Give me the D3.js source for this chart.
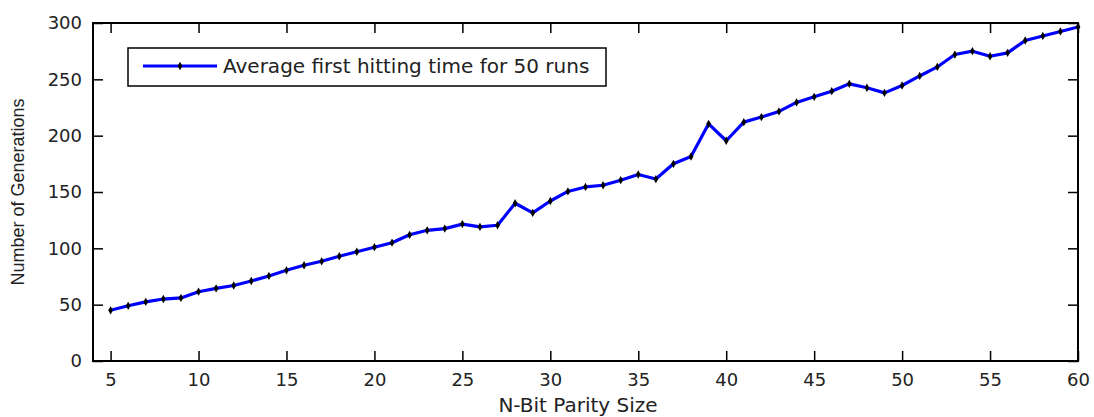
<!DOCTYPE html>
<html>
<head>
<meta charset="utf-8">
<script src="https://cdn.jsdelivr.net/npm/d3@7"></script>
<style>
  html, body { margin: 0; padding: 0; background: #fff; }
  svg { display: block; }
</style>
</head>
<body>
<script>
// ---- data ----
const bitSizes = [5,6,7,8,9,10,11,12,13,14,15,16,17,18,19,20,21,22,23,24,25,26,27,28,29,30,31,32,33,34,35,36,37,38,39,40,41,42,43,44,45,46,47,48,49,50,51,52,53,54,55,56,57,58,59,60];
const avgGenerations = [45,49,52.5,55,56,61.5,64.5,67,71,75.5,80.5,85,88.5,93,97,101,105,112,116,117.5,121.5,119,120.5,140,131.5,142,150.5,154.5,156,160.5,165.5,161.5,175,181.5,210.5,195.5,212,216.5,221.5,229.5,234.5,239.5,246,242.5,238,244.5,253,261,272,275,270.5,273.5,284.5,288.5,292.5,296.5];
const xTicks = [5,10,15,20,25,30,35,40,45,50,55,60];
const yTicks = [0,50,100,150,200,250,300];
const seriesName = "Average first hitting time for 50 runs";
const xLabel = "N-Bit Parity Size";
const yLabel = "Number of Generations";

// ---- layout ----
const W = 1094, H = 417;
const L = 93, R = 1078, T = 23, B = 361;
const tickFont = "'DejaVu Sans', sans-serif";

const svg = d3.select("body").append("svg").attr("width", W).attr("height", H);

const x = d3.scaleLinear().domain([4, 60]).range([L, R]);
const y = d3.scaleLinear().domain([0, 300]).range([B, T]);

const data = bitSizes.map((n, i) => ({n, v: avgGenerations[i]}));

svg.append("rect").attr("x", L).attr("y", T).attr("width", R - L).attr("height", B - T).attr("fill", "#fff");

const tickLen = 10;
const gx = svg.append("g").attr("transform", `translate(0,${B})`)
  .call(d3.axisBottom(x).tickValues(xTicks).tickSizeInner(-tickLen).tickSizeOuter(0).tickPadding(12));
const gy = svg.append("g").attr("transform", `translate(${L},0)`)
  .call(d3.axisLeft(y).tickValues(yTicks).tickSizeInner(-tickLen).tickSizeOuter(0).tickPadding(11));
const gxt = svg.append("g").attr("transform", `translate(0,${T})`)
  .call(d3.axisTop(x).tickValues(xTicks).tickSizeInner(-tickLen).tickSizeOuter(0).tickFormat(""));
const gyr = svg.append("g").attr("transform", `translate(${R},0)`)
  .call(d3.axisRight(y).tickValues(yTicks).tickSizeInner(-tickLen).tickSizeOuter(0).tickFormat(""));

[gx, gy, gxt, gyr].forEach(g => {
  g.select(".domain").remove();
  g.selectAll(".tick line").attr("stroke", "#000").attr("stroke-width", 1.5);
  g.selectAll("text").attr("fill", "#222").style("font-family", tickFont).style("font-size", "18px");
});

// data line
svg.append("path").datum(data)
  .attr("fill", "none").attr("stroke", "#0000ff").attr("stroke-width", 3.2).attr("stroke-linejoin", "round")
  .attr("d", d3.line().x(d => x(d.n)).y(d => y(d.v)));

// markers
const marker = d3.symbol().type(d3.symbolDiamond).size(20);
svg.append("g").selectAll("path").data(data).join("path")
  .attr("transform", d => `translate(${x(d.n)},${y(d.v)})`)
  .attr("d", marker).attr("fill", "#000");

// frame box
svg.append("rect").attr("x", L).attr("y", T).attr("width", R - L).attr("height", B - T)
  .attr("fill", "none").attr("stroke", "#000").attr("stroke-width", 2);

// axis labels
svg.append("text").attr("x", 578).attr("y", 412).attr("text-anchor", "middle")
  .style("font-family", tickFont).style("font-size", "20px").attr("fill", "#222").text(xLabel);
svg.append("text").attr("transform", `translate(24,${(T + B) / 2}) rotate(-90)`).attr("text-anchor", "middle")
  .style("font-family", "'Liberation Sans', Arial, sans-serif").style("font-size", "18px").attr("fill", "#222").text(yLabel);

// legend
const lg = svg.append("g");
lg.append("rect").attr("x", 128).attr("y", 48).attr("width", 478).attr("height", 38)
  .attr("fill", "#fff").attr("stroke", "#000").attr("stroke-width", 1.5);
lg.append("line").attr("x1", 143).attr("x2", 217).attr("y1", 66).attr("y2", 66)
  .attr("stroke", "#0000ff").attr("stroke-width", 3);
lg.append("path").attr("transform", "translate(180,66)").attr("d", marker).attr("fill", "#000");
lg.append("text").attr("x", 223).attr("y", 73)
  .style("font-family", tickFont).style("font-size", "20px").attr("fill", "#222").text(seriesName);
</script>
</body>
</html>
